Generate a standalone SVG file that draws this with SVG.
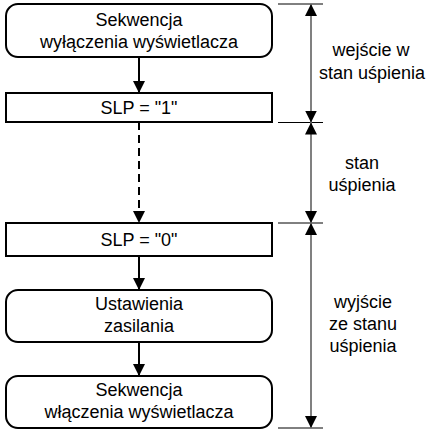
<svg xmlns="http://www.w3.org/2000/svg" width="432" height="431" viewBox="0 0 432 431">
<defs>
<style>
.box{fill:#fff;stroke:#000;stroke-width:2}
.t{font-family:"Liberation Sans",Arial,sans-serif;font-size:18px;fill:#000;text-anchor:middle}
.flow{stroke:#000;stroke-width:2;fill:none}
.dim{stroke:#808080;stroke-width:2;fill:none}
.tick{stroke:#000;stroke-width:1}
</style>
<marker id="ah" viewBox="0 0 12 12" refX="12" refY="6" markerWidth="12" markerHeight="12" markerUnits="userSpaceOnUse" orient="auto">
<path d="M0,0 L12,6 L0,12 Z" fill="#000"/>
</marker>
</defs>
<g id="connectors">
<line class="flow" x1="139" y1="57" x2="139" y2="93" marker-end="url(#ah)"/>
<line class="flow" x1="139" y1="122" x2="139" y2="223" stroke-dasharray="8,5" marker-end="url(#ah)"/>
<line class="flow" x1="139" y1="256" x2="139" y2="290" marker-end="url(#ah)"/>
<line class="flow" x1="139" y1="342" x2="139" y2="376" marker-end="url(#ah)"/>
</g>
<g id="n1"><rect class="box" x="6" y="4" width="266" height="53" rx="12"/>
<text class="t" x="139" y="26">Sekwencja</text><text class="t" x="139" y="48">wyłączenia wyświetlacza</text></g>
<g id="n2"><rect class="box" x="6" y="93" width="266" height="29"/>
<text class="t" x="139" y="114">SLP = "1"</text></g>
<g id="n3"><rect class="box" x="6" y="223" width="266" height="33"/>
<text class="t" x="139" y="246">SLP = "0"</text></g>
<g id="n4"><rect class="box" x="6" y="290" width="266" height="52" rx="12"/>
<text class="t" x="139" y="310">Ustawienia</text><text class="t" x="139" y="332">zasilania</text></g>
<g id="n5"><rect class="box" x="6" y="376" width="266" height="52" rx="12"/>
<text class="t" x="139" y="396">Sekwencja</text><text class="t" x="139" y="418">włączenia wyświetlacza</text></g>
<g id="dimension">
<line class="tick" x1="278" y1="4" x2="323" y2="4"/>
<line class="tick" x1="278" y1="122.5" x2="323" y2="122.5"/>
<line class="tick" x1="278" y1="223" x2="323" y2="223"/>
<line class="tick" x1="278" y1="428" x2="323" y2="428"/>
<line class="dim" x1="311" y1="60" x2="311" y2="4" marker-end="url(#ah)"/>
<line class="dim" x1="311" y1="60" x2="311" y2="122.5" marker-end="url(#ah)"/>
<line class="dim" x1="311" y1="170" x2="311" y2="122.5" marker-end="url(#ah)"/>
<line class="dim" x1="311" y1="170" x2="311" y2="223" marker-end="url(#ah)"/>
<line class="dim" x1="311" y1="320" x2="311" y2="223" marker-end="url(#ah)"/>
<line class="dim" x1="311" y1="320" x2="311" y2="428" marker-end="url(#ah)"/>
</g>
<g id="labels">
<text class="t" x="371" y="56">wejście w</text><text class="t" x="372" y="79">stan uśpienia</text>
<text class="t" x="362" y="169">stan</text><text class="t" x="362" y="191">uśpienia</text>
<text class="t" x="363" y="308">wyjście</text><text class="t" x="363" y="330">ze stanu</text><text class="t" x="363" y="352">uśpienia</text>
</g>
</svg>
